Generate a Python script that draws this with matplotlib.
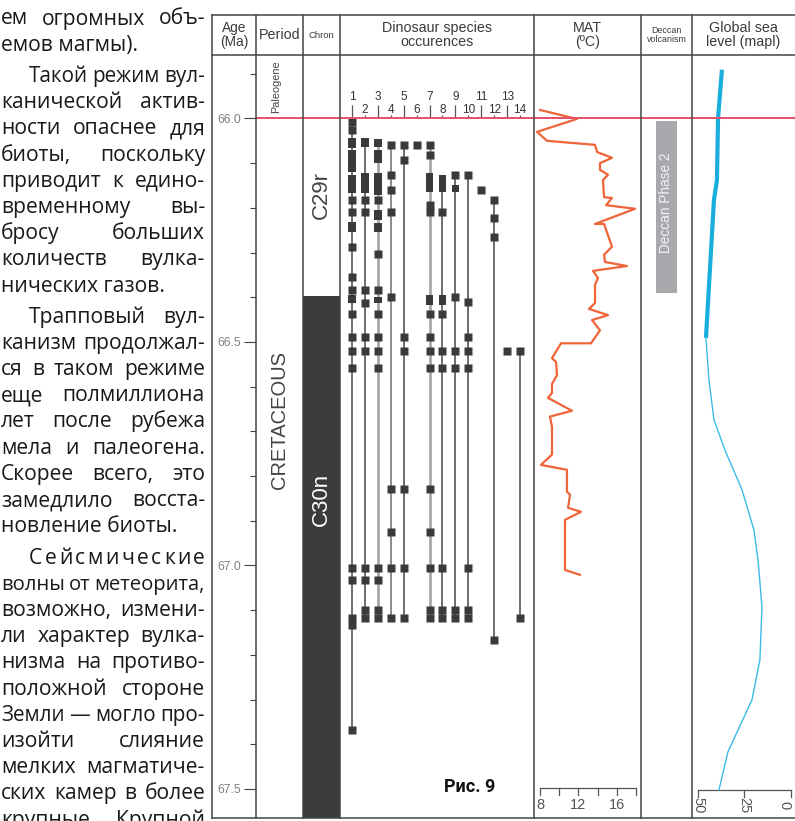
import matplotlib
matplotlib.use("Agg")
import matplotlib.pyplot as plt
from matplotlib.lines import Line2D
import matplotlib.transforms as mtransforms

W, H = 795, 821
fig = plt.figure(figsize=(W / 100, H / 100), dpi=100)

# ---------------- data ----------------
AGE_TOP, AGE_BOTTOM = 65.858, 67.565
age_major = [66.0, 66.5, 67.0, 67.5]
age_major_labels = ["66.0", "66.5", "67.0", "67.5"]
age_minor = [65.9, 66.1, 66.2, 66.3, 66.4, 66.6, 66.7, 66.8, 66.9,
             67.1, 67.2, 67.3, 67.4]
kpg_boundary = 66.0

period_labels = ["Paleogene", "CRETACEOUS"]
period_label_ages = [65.93, 66.674]

chron_boundary = 66.397          # C29r / C30n
chron_labels = ["C29r", "C30n"]
chron_label_ages = [66.171, 66.853]

deccan_phase2 = (66.006, 66.390)
deccan_label = "Deccan Phase 2"

species_ids = list(range(1, 15))
species_occ = {
    1: [66.008, 66.026, (66.044, 66.066), (66.070, 66.120), (66.126, 66.167), 66.182, 66.209,
        (66.232, 66.254), 66.287, 66.355, 66.384, (66.395, 66.413), 66.437, 66.490, 66.520,
        66.559, 67.006, 67.032, 67.117, 67.133, 67.368],
    2: [(66.044, 66.064), (66.122, 66.167), 66.182, 66.209, 66.384, 66.413, 66.490, 66.520,
        67.006, 67.032, 67.100, 67.117],
    3: [(66.046, 66.064), (66.070, 66.100), (66.122, 66.171), 66.182, (66.205, 66.227),
        (66.234, 66.254), 66.303, 66.384, (66.399, 66.413), 66.437, 66.490, 66.520, 66.559,
        67.006, 67.032, 67.100, 67.117],
    4: [66.059, 66.126, 66.160, 66.209, 66.399, 66.829, 66.925, 67.006, 67.117],
    5: [66.059, 66.093, 66.490, 66.520, 66.829, 67.006, 67.117],
    6: [66.059],
    7: [66.059, 66.082, (66.122, 66.164), 66.194, 66.209, (66.395, 66.417), 66.437, 66.490,
        66.520, 66.559, 66.829, 66.925, 67.006, 67.100, 67.117],
    8: [(66.126, 66.164), 66.209, (66.395, 66.417), 66.437, 66.520, 66.559, 67.006, 67.100,
        67.117],
    9: [66.126, (66.149, 66.164), 66.399, 66.520, 66.559, 67.100, 67.117],
    10: [66.126, 66.411, 66.490, 66.520, 66.559, 67.006, 67.100, 67.117],
    11: [66.160],
    12: [66.182, 66.223, 66.265, 67.167],
    13: [66.520],
    14: [66.520, 67.117],
}
light_species = [3, 7]
mid_species = [4]

mat_age = [65.981, 66.001, 66.030, 66.050, 66.059, 66.075, 66.088, 66.100, 66.115, 66.126,
           66.138, 66.176, 66.178, 66.194, 66.202, 66.236, 66.236, 66.287, 66.305, 66.321,
           66.330, 66.341, 66.357, 66.372, 66.413, 66.426, 66.440, 66.451, 66.474, 66.503,
           66.503, 66.536, 66.545, 66.574, 66.594, 66.614, 66.625, 66.654, 66.667, 66.690,
           66.752, 66.775, 66.786, 66.835, 66.842, 66.871, 66.880, 66.898, 67.010, 67.021]
mat_temp = [8.0, 11.85, 7.69, 8.73, 13.73, 13.94, 15.5, 14.25, 14.25, 15.08,
            14.56, 14.67, 15.5, 14.88, 17.9, 13.73, 14.67, 15.5, 14.67, 14.77,
            17.06, 13.52, 14.04, 13.73, 13.73, 13.1, 15.08, 13.42, 14.25, 13.31,
            10.19, 9.25, 9.67, 9.77, 9.25, 9.25, 8.83, 11.33, 9.04, 9.25,
            9.25, 8.1, 10.81, 10.81, 11.13, 10.92, 12.27, 10.6, 10.6, 12.17]
mat_ticks = [8, 10, 12, 14, 16, 18]
mat_tick_labels = ["8", "", "12", "", "16", ""]

sea_thick_age = [65.891, 65.999, 66.138, 66.182, 66.491]
sea_thick_level = [37.1, 39.2, 39.8, 41.4, 45.7]
sea_thin_age = [66.491, 66.585, 66.674, 66.742, 66.831, 66.921, 66.988, 67.093, 67.211,
                67.301, 67.417, 67.502]
sea_thin_level = [45.7, 44.1, 41.4, 35.5, 26.3, 19.9, 17.7, 15.6, 16.7, 21.0, 33.9, 38.7]
sea_ticks = [50, 25, 0]

headers = ["Age\n(Ma)", "Period", "Chron", "Dinosaur species\noccurences", "MAT\n(ºC)",
           "Deccan\nvolcanism", "Global sea\nlevel (mapl)"]

article_lines = [
    ("ем огромных объ-", False, True),
    ("емов магмы).", False, False),
    ("Такой режим вул-", True, True),
    ("канической актив-", False, True),
    ("ности опаснее для", False, True),
    ("биоты, поскольку", False, True),
    ("приводит к едино-", False, True),
    ("временному вы-", False, True),
    ("бросу больших", False, True),
    ("количеств вулка-", False, True),
    ("нических газов.", False, False),
    ("Трапповый вул-", True, True),
    ("канизм продолжал-", False, True),
    ("ся в таком режиме", False, True),
    ("еще полмиллиона", False, True),
    ("лет после рубежа", False, True),
    ("мела и палеогена.", False, True),
    ("Скорее всего, это", False, True),
    ("замедлило восста-", False, True),
    ("новление биоты.", False, False),
    ("Сейсмические", True, True),
    ("волны от метеорита,", False, True),
    ("возможно, измени-", False, True),
    ("ли характер вулка-", False, True),
    ("низма на противо-", False, True),
    ("положной стороне", False, True),
    ("Земли — могло про-", False, True),
    ("изойти слияние", False, True),
    ("мелких магматиче-", False, True),
    ("ских камер в более", False, True),
    ("крупные. Крупной", False, True),
]
figure_caption = "Рис. 9"

# ---------------- helpers ----------------
def fx(x):
    return x / W

def fy(y):
    return 1 - y / H

def add_col(x0, x1, y0=55, y1=818):
    ax = fig.add_axes([x0 / W, 1 - y1 / H, (x1 - x0) / W, (y1 - y0) / H])
    ax.set_ylim(AGE_BOTTOM, AGE_TOP)
    for s in ax.spines.values():
        s.set_visible(False)
    ax.set_xticks([])
    ax.set_yticks([])
    ax.patch.set_alpha(0)
    return ax

CH = "Liberation Sans"
GRID = "#444444"
RED = "#e4506b"
LABEL_GREY = "#555555"

# ---------------- table frame ----------------
xs = [212, 256, 303, 340, 534, 641, 692]
for x in xs:
    fig.add_artist(Line2D([fx(x), fx(x)], [fy(15), fy(818)], color=GRID, lw=1.1))
for y in [15, 55, 818]:
    fig.add_artist(Line2D([fx(212), fx(795)], [fy(y), fy(y)], color=GRID, lw=1.1))

hx = [(212, 256), (256, 303), (303, 340), (340, 534), (534, 641), (641, 692), (692, 795)]
hsize = [9.8, 10.3, 6.8, 10.3, 10.3, 6.4, 10.3]
for (a, b), t, s in zip(hx, headers, hsize):
    fig.text(fx((a + b) / 2), fy(35), t, ha="center", va="center", fontsize=s,
             family=CH, color="#3a3a3a", linespacing=1.0)

# ---------------- columns ----------------
ax_per = add_col(256, 303)
ax_chr = add_col(303, 340)
ax_dino = add_col(340, 534)
ax_mat = add_col(534, 641)
ax_dec = add_col(641, 692)
ax_sea = add_col(692, 795)

# age ticks on the left edge of the period column
ax_per.set_yticks(age_major)
ax_per.set_yticklabels(age_major_labels, family=CH, fontsize=8.8, color="#808080")
ax_per.set_yticks(age_minor, minor=True)
ax_per.tick_params(axis="y", which="major", length=8.6, width=0.8, color=GRID, pad=2)
ax_per.tick_params(axis="y", which="minor", length=4, width=0.8, color=GRID)
ax_per.set_xlim(0, 1)
ax_per.text(0.43, period_label_ages[0], period_labels[0], rotation=90, ha="center",
            va="center", fontsize=7.8, family=CH, color="#444444")
ax_per.text(0.5, period_label_ages[1], period_labels[1], rotation=90, ha="center",
            va="center", fontsize=14.5, family=CH, color="#444444")

# chron
ax_chr.set_xlim(0, 1)
ax_chr.bar(0.5, AGE_BOTTOM - chron_boundary, bottom=chron_boundary, width=1.0,
           color="#3b3b3b", edgecolor="none")
ax_chr.text(0.5, chron_label_ages[0], chron_labels[0], rotation=90, ha="center",
            va="center", fontsize=16, family=CH, color="#444444")
ax_chr.text(0.5, chron_label_ages[1], chron_labels[1], rotation=90, ha="center",
            va="center", fontsize=16, family=CH, color="white")

# dinosaurs
ax_dino.set_xlim(0.071, 15.08)
BOX = "#3a3a3a"
for sid in species_ids:
    occ = species_occ[sid]
    lo = min(o[0] if isinstance(o, tuple) else o for o in occ)
    hi = max(o[1] if isinstance(o, tuple) else o for o in occ)
    if len(occ) > 1:
        if sid in light_species:
            c, lw = "#a8a8a8", 2.0
        elif sid in mid_species:
            c, lw = "#8a8a8a", 1.4
        else:
            c, lw = "#555555", 1.2
        ax_dino.vlines(sid, lo, hi, color=c, lw=lw, zorder=2)
    for o in occ:
        if isinstance(o, tuple):
            ax_dino.bar(sid, o[1] - o[0], bottom=o[0], width=0.58, color=BOX,
                        edgecolor="none", zorder=3)
        else:
            ax_dino.plot(sid, o, marker="s", ms=5.4, color=BOX, mec="none", zorder=3)
    if sid % 2 == 1:
        ax_dino.text(sid, 65.952, str(sid), ha="center", va="center", fontsize=8.5,
                     family=CH, color="#333333")
        ax_dino.vlines(sid, 65.970, 66.0, color="#555555", lw=0.9)
    else:
        ax_dino.text(sid, 65.981, str(sid), ha="center", va="center", fontsize=8.5,
                     family=CH, color="#333333")
        ax_dino.vlines(sid, 65.992, 66.0, color="#555555", lw=0.9)

# MAT
ax_mat.set_xlim(7.375, 18.52)
ax_mat.plot(mat_temp, mat_age, color="#f0643a", lw=1.6, zorder=3)
tr_mat = mtransforms.blended_transform_factory(ax_mat.transData, ax_mat.transAxes)
ax_mat.plot([mat_ticks[0], mat_ticks[-1]], [0.0393, 0.0393], color="#555555", lw=0.9,
            transform=tr_mat)
for t, lab in zip(mat_ticks, mat_tick_labels):
    ax_mat.plot([t, t], [0.0393, 0.0295], color="#555555", lw=0.9, transform=tr_mat)
    if lab:
        ax_mat.text(t, 0.017, lab, ha="center", va="center", fontsize=10.5, family=CH,
                    color=LABEL_GREY, transform=tr_mat)

# Deccan
ax_dec.set_xlim(0, 1)
ax_dec.bar(0.5, deccan_phase2[1] - deccan_phase2[0], bottom=deccan_phase2[0], width=0.41,
           color="#a9a9ad", edgecolor="none")
ax_dec.text(0.5, 66.188, deccan_label, rotation=90, ha="center", va="center",
            fontsize=9.8, family=CH, color="#f4f4f4")

# Sea level
ax_sea.set_xlim(53.2, -2.15)
ax_sea.plot(sea_thick_level, sea_thick_age, color="#1aaedc", lw=3.0,
            solid_capstyle="butt", zorder=3)
ax_sea.plot(sea_thin_level, sea_thin_age, color="#3bbbe6", lw=1.0, zorder=3)
tr_sea = mtransforms.blended_transform_factory(ax_sea.transData, ax_sea.transAxes)
ax_sea.plot([sea_ticks[0], sea_ticks[-1]], [0.0367, 0.0367], color="#555555", lw=0.9,
            transform=tr_sea)
for t in sea_ticks:
    ax_sea.plot([t, t], [0.0367, 0.028], color="#555555", lw=0.9, transform=tr_sea)
    ax_sea.text(t, 0.017, str(t), rotation=-90, ha="right" if t == 0 else "center",
                va="center", fontsize=10.5, family=CH, color=LABEL_GREY,
                transform=tr_sea)

# K-Pg boundary red line
for ax in [ax_per, ax_chr, ax_dino, ax_mat, ax_dec, ax_sea]:
    ax.axhline(kpg_boundary, color=RED, lw=1.4, zorder=6)

# caption
fig.text(fx(470), fy(787), figure_caption, ha="center", va="center", fontsize=13,
         family="Roboto", weight="bold", color="#111111")

# ---------------- article text (justified) ----------------
renderer = fig.canvas.get_renderer()
BASE_FS = 15.2
TXT = dict(family="Open Sans", color="#1a1a1a", va="baseline")
LEFT, RIGHT, INDENT = 1, 205, 28
line_step, para_gap = 26.2, 5
y = 24.5
for i, (line, indent, justify) in enumerate(article_lines):
    if i > 0:
        y += line_step
        if article_lines[i - 1][2] is False:
            y += para_gap
    x0 = LEFT + (INDENT if indent else 0)
    words = line.split(" ")
    if not justify:
        fig.text(fx(x0), fy(y), line, fontsize=BASE_FS, **TXT)
        continue
    units = words if len(words) > 1 else list(line)
    fs = BASE_FS
    while True:
        objs = [fig.text(0, fy(y), u, fontsize=fs, **TXT) for u in units]
        widths = [o.get_window_extent(renderer).width for o in objs]
        gap = (RIGHT - x0 - sum(widths)) / (len(units) - 1)
        if gap >= (3.5 if len(words) > 1 else 0) or fs < 11:
            break
        for o in objs:
            o.remove()
        fs -= 0.3
    x = x0
    for o, w in zip(objs, widths):
        o.set_x(fx(x))
        x += w + gap

fig.savefig("out.png", dpi=100)
